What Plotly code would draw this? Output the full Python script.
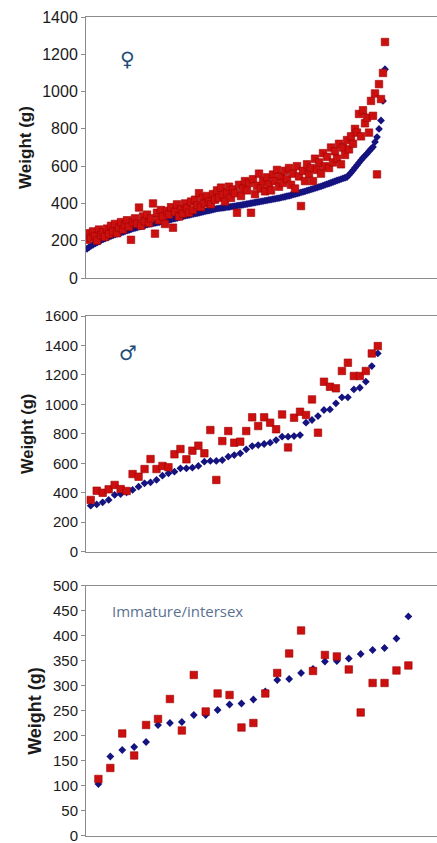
import plotly.graph_objects as go

# ---------------- Female panel (♀) ----------------
female_pred = [157,165,172,178,184,190,196,202,
               207,212,217,221,225,229,233,237,
               241,244,247,250,254,257,261,265,
               268,271,274,277,280,283,286,289,
               291,293,295,297,299,302,304,306,309,
               312,314,317,319,322,325,328,331,
               333,336,338,340,343,345,347,350,
               352,355,357,360,362,365,367,370,372,
               374,375,377,378,380,381,383,384,
               386,388,390,391,393,395,397,399,
               401,403,405,407,409,411,413,415,417,
               419,421,423,425,427,429,431,434,
               436,439,441,444,447,450,453,456,
               459,462,465,469,472,475,478,482,485,
               489,492,496,500,504,507,511,515,
               519,523,527,530,534,538,542,
               553,565,578,592,605,619,
               632,645,656,667,680,692,703,
               730,756,800,845,950,1120]
female_obs = [205,240,215,250,225,200,260,230,245,220,
              265,235,280,250,290,240,270,300,260,285,
              310,275,205,300,320,290,378,280,330,305,
              340,295,320,400,238,350,310,365,330,290,
              360,340,380,270,355,395,330,370,345,400,
              375,350,410,365,420,390,455,380,430,400,
              440,410,395,450,420,470,430,485,445,410,
              460,490,430,475,455,350,500,440,480,520,
              470,510,350,530,450,495,560,480,520,465,
              540,500,470,555,520,580,490,545,510,575,
              530,590,500,560,480,600,545,386,575,520,
              610,560,590,520,640,580,620,560,670,600,
              650,590,700,620,680,640,720,610,700,660,
              740,690,760,720,800,780,880,760,900,830,
              860,780,950,870,990,556,1040,960,1100,1266]
female_idx = list(range(1, len(female_pred) + 1))

# ---------------- Male panel (♂) ----------------
male_pred = [312,321,335,351,385,391,403,419,441,464,
             471,487,516,532,543,566,566,570,582,611,
             616,616,622,645,656,668,695,717,724,731,
             740,758,781,781,785,792,876,894,921,962,
             966,1007,1048,1048,1102,1113,1154,1260,1346]
male_obs = [351,414,400,423,453,425,412,527,509,561,
            629,561,582,573,661,697,627,686,720,668,
            826,487,751,819,740,747,819,912,853,912,
            876,831,932,708,910,950,928,1034,808,1154,
            1120,1109,1227,1283,1193,1193,1227,1346,1396]
male_idx = list(range(1, len(male_pred) + 1))

# ---------------- Immature / intersex panel ----------------
imm_pred = [104,159,172,178,188,222,226,228,242,242,
            252,263,265,273,289,312,314,326,334,349,
            350,355,364,372,376,395,439]
imm_obs = [114,136,205,161,222,234,274,211,322,249,
           285,282,217,226,285,326,365,411,330,362,
           359,333,247,306,306,331,341]
imm_idx = list(range(1, len(imm_pred) + 1))

panels = [
    dict(idx=female_idx, pred=female_pred, obs=female_obs, xr=[0.5, 176], yr=[0, 1400], dtick=200,
         dom=[0.6702, 0.9798], tick=16, title=17),
    dict(idx=male_idx, pred=male_pred, obs=male_obs, xr=[0.21, 58.9], yr=[0, 1600], dtick=200,
         dom=[0.3456, 0.6251], tick=15, title=16.5),
    dict(idx=imm_idx, pred=imm_pred, obs=imm_obs, xr=[-0.04, 29.4], yr=[0, 500], dtick=50,
         dom=[0.0083, 0.3049], tick=15, title=18),
]

BLUE = "#14137F"
RED = "#CC1010"
AXC = "#8C8C8C"

fig = go.Figure()
layout = dict(width=437, height=843, margin=dict(l=0, r=0, t=0, b=0, autoexpand=False),
              paper_bgcolor="white", plot_bgcolor="white", showlegend=False)

for k, p in enumerate(panels, start=1):
    xa = "x" if k == 1 else f"x{k}"
    ya = "y" if k == 1 else f"y{k}"
    fig.add_trace(go.Scatter(x=p["idx"], y=p["pred"], mode="markers", xaxis=xa, yaxis=ya,
                             marker=dict(symbol="diamond", size=6, color=BLUE,
                                         line=dict(width=0))))
    fig.add_trace(go.Scatter(x=p["idx"], y=p["obs"], mode="markers", xaxis=xa, yaxis=ya,
                             marker=dict(symbol="square", size=7.5, color=RED,
                                         line=dict(width=0.6, color="#A00000"))))
    xkey = "xaxis" if k == 1 else f"xaxis{k}"
    ykey = "yaxis" if k == 1 else f"yaxis{k}"
    layout[xkey] = dict(domain=[0.1968, 1], range=p["xr"], anchor=ya, showgrid=False,
                        zeroline=False, showticklabels=False, ticks="", showline=True,
                        linecolor=AXC, linewidth=1, mirror=True, automargin=False)
    layout[ykey] = dict(domain=p["dom"], range=p["yr"], dtick=p["dtick"], anchor=xa,
                        showgrid=False, zeroline=False, showline=True, linecolor=AXC,
                        linewidth=1, ticks="outside", ticklen=4, tickcolor=AXC, automargin=False,
                        ticklabeloverflow="allow",
                        tickfont=dict(family="Liberation Sans, Arial", size=p["tick"], color="#1a1a1a"),
                        title=dict(text="<b>Weight (g)</b>", standoff=6,
                                   font=dict(family="Liberation Sans, Arial", size=p["title"], color="#1a1a1a")))

fig.update_layout(**layout)

fig.add_annotation(text="♀", xref="paper", yref="paper", x=118/437, y=1-45/843,
                   showarrow=False, font=dict(family="DejaVu Sans", size=20, color="#1F4E79"))
fig.add_annotation(text="♂", xref="paper", yref="paper", x=117/437, y=1-353/843,
                   showarrow=False, font=dict(family="DejaVu Sans", size=20, color="#1F4E79"))
fig.add_annotation(text="Immature/intersex", xref="paper", yref="paper", x=110/437, y=1-623/843,
                   xanchor="left", showarrow=False,
                   font=dict(family="Open Sans", size=15, color="#5A7191"))

fig.write_html("out.html", config={"displayModeBar": False},
               post_script="document.body.style.margin='0';document.body.style.overflow='hidden';")
